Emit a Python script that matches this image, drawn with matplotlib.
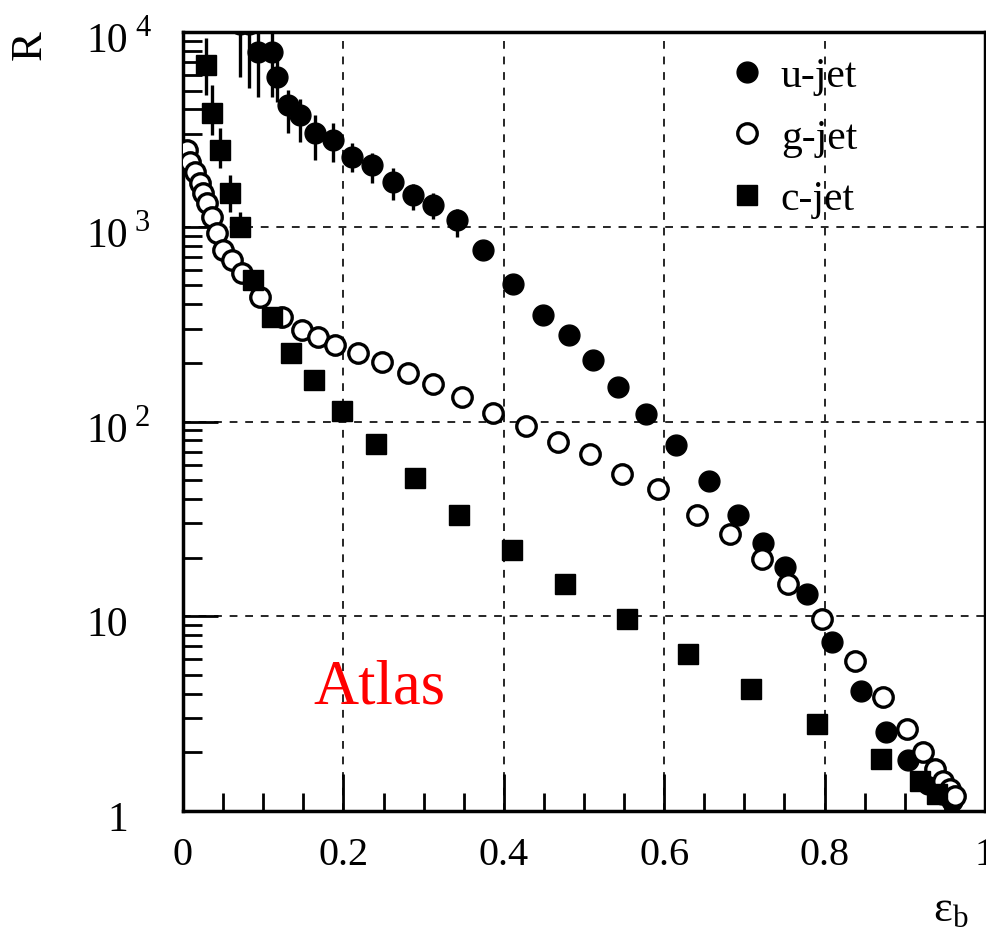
import numpy as np
import matplotlib
matplotlib.use('Agg')
import matplotlib.pyplot as plt
from matplotlib.ticker import MultipleLocator, LogLocator, NullFormatter, FixedLocator
import matplotlib.transforms as mtransforms

plt.rcParams['font.family'] = ['Liberation Serif', 'DejaVu Serif']
plt.rcParams['mathtext.fontset'] = 'custom'
plt.rcParams['mathtext.rm'] = 'Liberation Serif'

# u-jet rejection vs b efficiency (filled circles)
u_eff = [0.071, 0.082, 0.0935, 0.111, 0.117, 0.131, 0.146, 0.165, 0.187, 0.211,
         0.236, 0.262, 0.287, 0.312, 0.342, 0.374, 0.411, 0.449, 0.481, 0.511,
         0.542, 0.577, 0.615, 0.656, 0.692, 0.723, 0.751, 0.778, 0.809, 0.845,
         0.877, 0.904, 0.929, 0.946, 0.959]
u_rej = [11000, 11000, 7890, 7890, 5880, 4225, 3750, 3035, 2795, 2285,
         2080, 1702, 1460, 1297, 1086, 762, 510, 354, 279, 206,
         151, 109, 75.3, 49.3, 33.3, 23.9, 17.8, 12.97, 7.36, 4.12,
         2.54, 1.83, 1.37, 1.22, 1.12]
u_err_lo = [5100, 5840, 3250, 3250, 1500, 1190, 1020, 830, 640, 370,
            400, 330, 240, 200, 200] + [0] * 20
u_err_hi = [3000, 3000, 3000, 3000, 1500, 800, 800, 700, 600, 400,
            300, 300, 200, 200, 150] + [0] * 20

# g-jet (open circles)
g_eff = [0.005, 0.0087, 0.015, 0.0212, 0.0249, 0.0299, 0.0362, 0.0424, 0.0499, 0.0611,
         0.0736, 0.096, 0.123, 0.148, 0.168, 0.190, 0.218, 0.248, 0.281, 0.312,
         0.348, 0.387, 0.428, 0.468, 0.507, 0.547, 0.592, 0.641, 0.682, 0.722,
         0.754, 0.797, 0.838, 0.873, 0.903, 0.923, 0.938, 0.948, 0.956, 0.963]
g_rej = [2483, 2154, 1915, 1682, 1494, 1327, 1125, 931, 762, 677,
         581, 438, 342, 296, 270, 248, 226, 203, 178, 155,
         133, 111, 94.3, 78.9, 67.7, 53.5, 44.8, 33.3, 26.3, 19.6,
         14.6, 9.65, 5.88, 3.84, 2.63, 2.01, 1.64, 1.43, 1.30, 1.19]

# c-jet (filled squares)
c_eff = [0.0287, 0.0362, 0.0461, 0.0586, 0.0711, 0.0873, 0.111, 0.135, 0.163, 0.198,
         0.241, 0.289, 0.344, 0.410, 0.476, 0.554, 0.630, 0.708, 0.791, 0.870,
         0.919, 0.940]
c_rej = [6770, 3845, 2483, 1494, 1000, 535, 345, 226, 164, 113,
         76.2, 51, 33, 21.8, 14.6, 9.65, 6.38, 4.22, 2.79, 1.85,
         1.43, 1.22]
c_err_lo = [2000, 880, 475, 300, 110, 60] + [0] * 16
c_err_hi = [2500, 1500, 740, 350, 190, 60] + [0] * 16

fig = plt.figure(figsize=(9.87, 9.45), dpi=100)
ax = fig.add_axes([183 / 987, 1 - 812 / 945, 802 / 987, 779 / 945])
ax.set_yscale('log')
ax.set_xlim(0, 1)
ax.set_ylim(1, 1e4)

h_u = ax.errorbar(u_eff, u_rej, yerr=[u_err_lo, u_err_hi], fmt='o', color='black',
                  ms=15, elinewidth=2.4, capsize=0, zorder=3)
h_g, = ax.plot(g_eff, g_rej, 'o', mfc='white', mec='black', mew=2.4, ms=14, zorder=4)
h_c = ax.errorbar(c_eff, c_rej, yerr=[c_err_lo, c_err_hi], fmt='s', color='black',
                  ms=15, elinewidth=2.4, capsize=0, zorder=5)

# grid
ax.xaxis.set_major_locator(FixedLocator([0, 0.2, 0.4, 0.6, 0.8, 1.0]))
ax.xaxis.set_minor_locator(MultipleLocator(0.05))
ax.yaxis.set_major_locator(LogLocator(base=10, numticks=10))
ax.yaxis.set_minor_locator(LogLocator(base=10, subs=np.arange(2, 10), numticks=20))
ax.yaxis.set_minor_formatter(NullFormatter())
ax.grid(True, which='major', color='0.15', linestyle=(0, (4, 4)), linewidth=1.4)

for s in ax.spines.values():
    s.set_linewidth(2.5)

ax.tick_params(which='major', axis='x', direction='in', length=27, width=2,
               top=False, labelsize=29, pad=18)
ax.tick_params(which='minor', axis='x', direction='in', length=13, width=2, top=False)
ax.tick_params(which='major', axis='y', direction='in', length=25, width=2,
               right=False, labelleft=False)
ax.tick_params(which='minor', axis='y', direction='in', length=14, width=2, right=False)
ax.set_xticklabels(['0', '0.2', '0.4', '0.6', '0.8', '1'])

# y tick labels drawn as "10" with a raised exponent
ylab_vals = [1, 10, 100, 1000, 10000]
ylab_base = ['1', '10', '10', '10', '10']
ylab_exp = ['', '', '2', '3', '4']
tr = ax.get_yaxis_transform()
for v, b, e in zip(ylab_vals, ylab_base, ylab_exp):
    t_base = mtransforms.offset_copy(tr, fig=fig, x=-55, y=-9, units='dots')
    ax.text(0, v, b, transform=t_base, ha='right', va='center', fontsize=30,
            clip_on=False)
    if e:
        t_exp = mtransforms.offset_copy(tr, fig=fig, x=-48, y=4, units='dots')
        ax.text(0, v, e, transform=t_exp, ha='left', va='center', fontsize=22,
                clip_on=False)

fig.text(30 / 987, 1 - 45 / 945, 'R', rotation=90, ha='center', va='center', fontsize=32)
fig.text(951 / 987, 1 - 910 / 945, r'$\mathregular{ε_b}$', ha='center', va='center',
         fontsize=32)

ax.text((379 - 183) / 802, 1 - (688 - 33) / 779, 'Atlas', color='red',
        transform=ax.transAxes, ha='center', va='center', fontsize=45)

ax.legend(handles=[h_u[0], h_g, h_c[0]], labels=['u-jet', 'g-jet', 'c-jet'],
          loc='upper left', bbox_to_anchor=(0.683, 0.968), frameon=False,
          fontsize=30, handlelength=0.8, handletextpad=0.4, labelspacing=0.55,
          borderaxespad=0, borderpad=0)

plt.savefig('out.png', dpi=100)
